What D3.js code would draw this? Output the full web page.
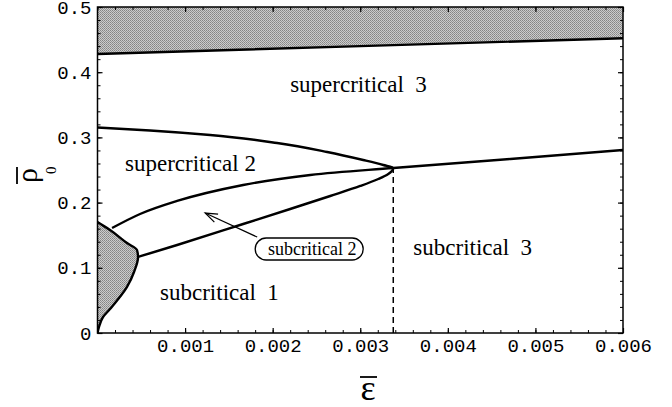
<!DOCTYPE html>
<html lang="en">
<head>
<meta charset="UTF-8">
<title>Phase diagram</title>
<style>
  body { margin: 0; background: #fff; }
  svg { display: block; }
  .tick text { font-family: 'Liberation Mono', monospace; font-size: 19px; fill: #000; }
  .region { font-family: 'Liberation Serif', serif; font-size: 23px; white-space: pre; fill: #000; }
</style>
</head>
<body>
<div id="chart"></div>
<script src="https://cdn.jsdelivr.net/npm/d3@7/dist/d3.min.js"></script>
<script>
// values: [epsilon, rho0]
const xTicks = [0.001, 0.002, 0.003, 0.004, 0.005, 0.006];
const yTicks = [0, 0.1, 0.2, 0.3, 0.4, 0.5];

const topBoundary = [[0, 0.428], [0.003, 0.440], [0.006, 0.452]];

const cusp = [0.003377, 0.2531];

// fold curve, ordered by rising rho: lower branch, cusp, upper branch
const foldLower = [
  [0.000463, 0.1166], [0.000909, 0.135], [0.001663, 0.1672], [0.0022, 0.1902],
  [0.002657, 0.2101], [0.003, 0.2255], [0.003206, 0.2362], [0.00332, 0.2439]
];
const foldUpper = [
  [0.003263, 0.2577], [0.003034, 0.2653], [0.002623, 0.2776], [0.002051, 0.2914],
  [0.001286, 0.3037], [0.0006, 0.3106], [0, 0.3152]
];

const crossLine = [
  [0.000166, 0.161], [0.000486, 0.1825], [0.000909, 0.2025], [0.001663, 0.227],
  [0.002429, 0.2423], [0.003377, 0.2531], [0.004714, 0.2669], [0.006, 0.2807]
];

const bulge = [
  [0, 0], [0.000017, 0.0092], [0.000063, 0.0245], [0.000143, 0.0368],
  [0.000337, 0.0706], [0.000417, 0.0936], [0.000463, 0.1166], [0.000451, 0.1273],
  [0.000337, 0.138], [0.000143, 0.158], [0.000017, 0.1687], [0, 0.1702]
];

const regionLabels = [
  ["supercritical  3", 0.0022, 0.3696],
  ["supercritical 2", 0.000314, 0.2485],
  ["subcritical  1", 0.000714, 0.0506],
  ["subcritical  3", 0.003606, 0.1196]
];
const boxLabel = ["subcritical 2", 0.002417, 0.1288];
const arrowFrom = [0.001823, 0.1472];
const arrowTo = [0.001229, 0.184];

const width = 672, height = 407;
const svg = d3.select("#chart").append("svg")
  .attr("width", width).attr("height", height);

const x = d3.scaleLinear().domain([0, 0.006]).range([97.5, 623]);
const y = d3.scaleLinear().domain([0, 0.5]).range([333, 7]);

const defs = svg.append("defs");
const pat = defs.append("pattern")
  .attr("id", "halftone").attr("patternUnits", "userSpaceOnUse")
  .attr("width", 2).attr("height", 2);
pat.append("rect").attr("width", 2).attr("height", 2).attr("fill", "#cccccc");
pat.append("rect").attr("width", 1).attr("height", 1).attr("fill", "#858585");
pat.append("rect").attr("x", 1).attr("y", 1).attr("width", 1).attr("height", 1).attr("fill", "#959595");

defs.append("clipPath").attr("id", "plot")
  .append("rect")
  .attr("x", x(0)).attr("y", y(0.5))
  .attr("width", x(0.006) - x(0)).attr("height", y(0) - y(0.5));

const g = svg.append("g").attr("clip-path", "url(#plot)");

const byRho = d3.line()
  .x(d => x(d[0])).y(d => y(d[1]))
  .curve(d3.curveMonotoneY);
const byEps = d3.line()
  .x(d => x(d[0])).y(d => y(d[1]))
  .curve(d3.curveMonotoneX);

// grey regions
g.append("path")
  .attr("d", d3.area().x(d => x(d[0])).y0(d => y(d[1])).y1(y(0.5))(topBoundary))
  .attr("fill", "url(#halftone)");
g.append("path")
  .attr("d", byRho(bulge) + "Z")
  .attr("fill", "url(#halftone)");

// dashed line under the cusp
g.append("line")
  .attr("x1", x(cusp[0])).attr("x2", x(cusp[0]))
  .attr("y1", y(0)).attr("y2", y(cusp[1]))
  .attr("stroke", "#000").attr("stroke-width", 1.5)
  .attr("stroke-dasharray", "6,4");

// curves
const curves = [
  d3.line().x(d => x(d[0])).y(d => y(d[1]))(topBoundary),
  byRho(foldLower.concat([cusp], foldUpper)),
  byEps(crossLine),
  byRho(bulge)
];
g.selectAll("path.curve").data(curves).enter().append("path")
  .attr("class", "curve")
  .attr("d", d => d)
  .attr("fill", "none").attr("stroke", "#000").attr("stroke-width", 2.4)
  .attr("stroke-linejoin", "round");

// frame
svg.append("rect")
  .attr("x", x(0)).attr("y", y(0.5))
  .attr("width", x(0.006) - x(0)).attr("height", y(0) - y(0.5))
  .attr("fill", "none").attr("stroke", "#000").attr("stroke-width", 1.5);

// axes, ticks inward
const xMinor = d3.range(0, 31).map(i => i * 0.0002);
const yMinor = d3.range(0, 26).map(i => i * 0.02);

function addAxis(axis, tx, ty, major, minor, labels) {
  const a1 = svg.append("g").attr("transform", `translate(${tx},${ty})`)
    .call(axis.tickValues(minor).tickSize(-3).tickFormat(""));
  a1.select(".domain").remove();
  const a2 = svg.append("g").attr("transform", `translate(${tx},${ty})`)
    .call(axis.tickValues(major).tickSize(-5).tickPadding(6)
      .tickFormat(labels ? (d => d3.format("")(+d.toFixed(4))) : ""));
  a2.select(".domain").remove();
  a2.selectAll("line").attr("stroke-width", 1.2);
  return a2;
}
addAxis(d3.axisBottom(x), 0, y(0), xTicks, xMinor, true);
addAxis(d3.axisTop(x), 0, y(0.5), xTicks, xMinor, false);
addAxis(d3.axisLeft(y), x(0), 0, yTicks, yMinor, true);
addAxis(d3.axisRight(y), x(0.006), 0, yTicks, yMinor, false);

// region labels
svg.selectAll("text.region").data(regionLabels).enter().append("text")
  .attr("class", "region")
  .attr("x", d => x(d[1])).attr("y", d => y(d[2]))
  .text(d => d[0]);

// boxed label with arrow
const bx = x(boxLabel[1]), by = y(boxLabel[2]);
svg.append("rect")
  .attr("x", bx - 54).attr("y", by - 11).attr("width", 108).attr("height", 22)
  .attr("rx", 11).attr("ry", 11)
  .attr("fill", "#fff").attr("stroke", "#000").attr("stroke-width", 1.3);
svg.append("text")
  .attr("class", "region").style("font-size", "18px")
  .attr("x", bx + 3).attr("y", by + 6).attr("text-anchor", "middle")
  .text(boxLabel[0]);

const ax0 = x(arrowFrom[0]), ay0 = y(arrowFrom[1]);
const ax1 = x(arrowTo[0]), ay1 = y(arrowTo[1]);
svg.append("line")
  .attr("x1", ax0).attr("y1", ay0).attr("x2", ax1).attr("y2", ay1)
  .attr("stroke", "#000").attr("stroke-width", 1.2);
const ang = Math.atan2(ay0 - ay1, ax0 - ax1);
const head = [ang - 0.35, ang + 0.35].map(a => [ax1 + 13 * Math.cos(a), ay1 + 13 * Math.sin(a)]);
svg.append("path")
  .attr("d", `M${head[0][0]},${head[0][1]}L${ax1},${ay1}L${head[1][0]},${head[1][1]}`)
  .attr("fill", "none").attr("stroke", "#000").attr("stroke-width", 1.2);

// axis titles
const xt = svg.append("g").attr("transform", "translate(368,400)");
xt.append("text").attr("text-anchor", "middle")
  .style("font-family", "'Liberation Serif', serif").style("font-size", "36px")
  .text("ε");
xt.append("line").attr("x1", -8).attr("x2", 9).attr("y1", -23).attr("y2", -23)
  .attr("stroke", "#000").attr("stroke-width", 1.8);

const yt = svg.append("g").attr("transform", "rotate(-90)");
yt.append("text").attr("x", -183).attr("y", 37)
  .style("font-family", "'Liberation Serif', serif").style("font-size", "30px")
  .text("ρ");
yt.append("text").attr("x", -174).attr("y", 56)
  .style("font-family", "'Liberation Serif', serif").style("font-size", "15px")
  .text("0");
yt.append("line").attr("x1", -184).attr("x2", -167).attr("y1", 17).attr("y2", 17)
  .attr("stroke", "#000").attr("stroke-width", 1.8);
</script>
</body>
</html>
